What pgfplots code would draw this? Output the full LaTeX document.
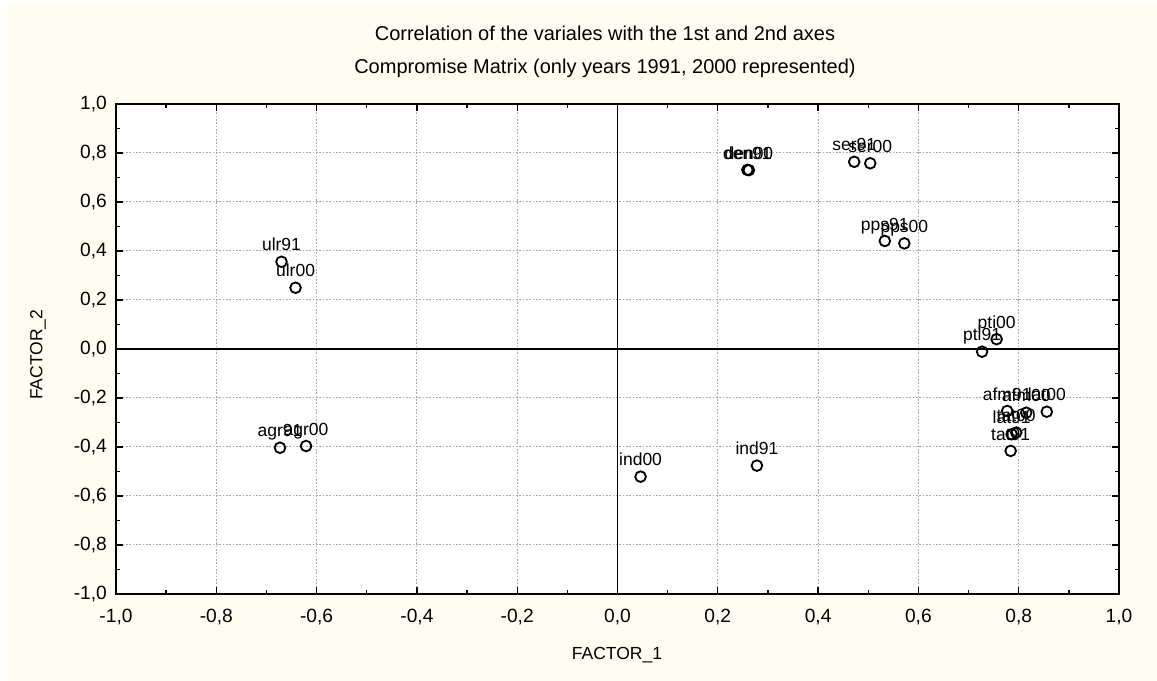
\documentclass[border=0pt]{standalone}
\usepackage{pgfplots}
\pgfplotsset{compat=1.18}
\usepackage{pgfplotstable}
\usepackage{fontspec}
\setmainfont{Liberation Sans}
\definecolor{cream}{HTML}{FFFDF2}
\definecolor{gridgray}{HTML}{A8A8A8}

% factor coordinates
\pgfplotstableread{
x      y      label
-0.670  0.356 ulr91
-0.642  0.250 ulr00
-0.673 -0.403 agr91
-0.621 -0.396 agr00
 0.278 -0.476 ind91
 0.046 -0.521 ind00
 0.472  0.764 ser91
 0.504  0.758 ser00
 0.259  0.731 den91
 0.262  0.730 den00
 0.533  0.441 pps91
 0.572  0.431 pps00
 0.727 -0.011 pti91
 0.756  0.040 pti00
 0.777 -0.253 afm91
 0.815 -0.260 afm00
 0.786 -0.348 lat91
 0.856 -0.256 lat00
 0.784 -0.416 tat91
 0.795 -0.341 tat00
}\pts

\begin{document}
\begin{tikzpicture}[x=1pt,y=1pt]
\useasboundingbox (-69.6,-52.2) rectangle (624.6,356.4);
\fill[cream] (-64.8,-52.2) rectangle (624.6,354);
\begin{axis}[
    at={(0,0)}, anchor=south west,
    scale only axis,
    width=601.8pt, height=294pt,
    xmin=-1, xmax=1, ymin=-1, ymax=1,
    axis background/.style={fill=white},
    axis line style={line width=1.1pt},
    xtick={-1,-0.8,...,1.01},
    ytick={-1,-0.8,...,1.01},
    xticklabels={{-1,0},{-0,8},{-0,6},{-0,4},{-0,2},{0,0},{0,2},{0,4},{0,6},{0,8},{1,0}},
    yticklabels={{-1,0},{-0,8},{-0,6},{-0,4},{-0,2},{0,0},{0,2},{0,4},{0,6},{0,8},{1,0}},
    minor tick num=1,
    tick align=inside, tick pos=both,
    major tick length=4pt, minor tick length=2.5pt,
    tick style={black, line width=0.8pt},
    ymajorgrids, xmajorgrids,
    major grid style={gridgray, line width=0.6pt, dash pattern=on 1pt off 1pt},
    ticklabel style={font=\fontsize{11.5}{13}\selectfont},
    xticklabel style={anchor=center, yshift=-13.8pt},
    yticklabel style={anchor=east, xshift=-2pt},
    xlabel={FACTOR\_1},
    ylabel={FACTOR\_2},
    xlabel style={at={(axis description cs:0.4995,-0.1245)}, anchor=center, font=\fontsize{10.5}{12}\selectfont},
    ylabel style={at={(axis description cs:-0.0778,0.488)}, anchor=center, font=\fontsize{10.5}{12}\selectfont},
    clip=false,
]
\draw[black, line width=1.1pt] (axis cs:0,-1) -- (axis cs:0,1);
\draw[black, line width=1.1pt] (axis cs:-1,0) -- (axis cs:1,0);
% labels first, circles on top
\addplot[only marks, mark=none, nodes near coords, point meta=explicit symbolic,
    every node near coord/.append style={anchor=base, yshift=6.5pt, inner sep=0pt,
    font=\fontsize{10.5}{12}\selectfont}]
    table[x=x, y=y, meta=label] {\pts};
\addplot[only marks, mark=o, mark size=3.2pt, black, line width=1.1pt]
    table[x=x, y=y] {\pts};
\node[font=\fontsize{12}{14}\selectfont] at (axis description cs:0.4875,1.145)
    {Correlation of the variales with the 1st and 2nd axes};
\node[font=\fontsize{12}{14}\selectfont] at (axis description cs:0.4875,1.0735)
    {Compromise Matrix (only years 1991, 2000 represented)};
\end{axis}
\end{tikzpicture}
\end{document}
